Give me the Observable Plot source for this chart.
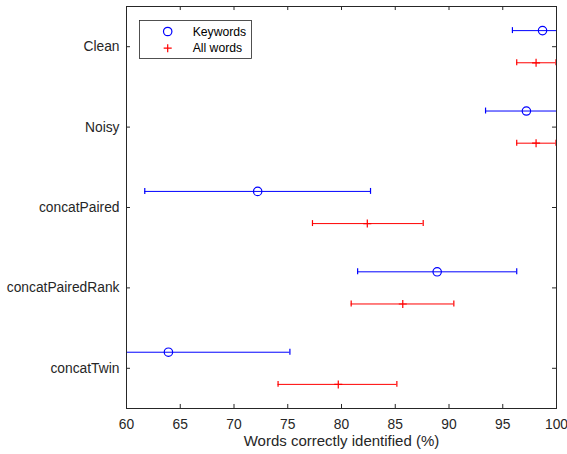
<!DOCTYPE html>
<html><head><meta charset="utf-8">
<script src="https://cdn.jsdelivr.net/npm/d3@7"></script>
<script src="https://cdn.jsdelivr.net/npm/@observablehq/plot@0.6"></script>
<style>body{margin:0;background:#fff} #chart svg{display:block}</style>
</head><body><div id="chart"></div>
<script>
const categories = ["Clean", "Noisy", "concatPaired", "concatPairedRank", "concatTwin"];
const seriesNames = ["Keywords", "All words"];
const kwMean = [98.7, 97.2, 72.2, 88.9, 63.9];
const kwLow = [95.9, 93.4, 61.7, 81.5, 52.6];
const kwHigh = [101.5, 101.0, 82.7, 96.3, 75.2];
const allMean = [98.1, 98.1, 82.4, 85.7, 79.7];
const allLow = [96.3, 96.3, 77.3, 80.9, 74.1];
const allHigh = [99.95, 99.95, 87.6, 90.45, 85.15];
const xTicks = [60, 65, 70, 75, 80, 85, 90, 95, 100];
const xLabel = "Words correctly identified (%)";

const colors = ["#0000ff", "#ff0000"];
const ink = "#262626";
const off = 0.2, cap = 0.037;
const rows = categories.flatMap((c, i) => [
  {cat: c, series: seriesNames[0], pos: i + 1 - off, mean: kwMean[i], low: kwLow[i], high: kwHigh[i]},
  {cat: c, series: seriesNames[1], pos: i + 1 + off, mean: allMean[i], low: allLow[i], high: allHigh[i]}
]);
const yIdx = categories.map((c, i) => i + 1);
const tY = 0.05, tX = 0.37;

const plot = Plot.plot({
  width: 567, height: 454,
  marginLeft: 126, marginRight: 11, marginTop: 6, marginBottom: 46,
  style: {fontFamily: "'Liberation Sans', Arial, sans-serif", fontSize: "13.8px", color: ink, background: "#fff"},
  x: {domain: [60, 100], ticks: xTicks, tickSize: 0, tickPadding: 10.5, label: null},
  y: {domain: [0.5, 5.5], reverse: true, ticks: yIdx, tickSize: 0, tickPadding: 7, tickFormat: i => categories[i - 1], label: null},
  color: {domain: seriesNames, range: colors},
  marks: [
    Plot.ruleY(rows, {y: "pos", x1: "low", x2: "high", stroke: "series", strokeWidth: 1, clip: true}),
    Plot.ruleX(rows, {x: "low", y1: d => d.pos - cap, y2: d => d.pos + cap, stroke: "series", strokeWidth: 1.2, clip: true}),
    Plot.ruleX(rows, {x: "high", y1: d => d.pos - cap, y2: d => d.pos + cap, stroke: "series", strokeWidth: 1.2, clip: true}),
    Plot.dot(rows.filter(d => d.series === seriesNames[0]), {x: "mean", y: "pos", symbol: "circle", r: 4.2, stroke: "series", strokeWidth: 1.2, fill: "none"}),
    Plot.dot(rows.filter(d => d.series === seriesNames[1]), {x: "mean", y: "pos", symbol: "plus", r: 2.7, stroke: "series", strokeWidth: 1.2}),
    Plot.ruleX(xTicks, {x: d => d, y1: 5.5, y2: 5.5 - tY, stroke: ink}),
    Plot.ruleX(xTicks, {x: d => d, y1: 0.5, y2: 0.5 + tY, stroke: ink}),
    Plot.ruleY(yIdx, {y: d => d, x1: 60, x2: 60 + tX, stroke: ink}),
    Plot.ruleY(yIdx, {y: d => d, x1: 100, x2: 100 - tX, stroke: ink}),
    Plot.frame({stroke: ink, strokeWidth: 1}),
    Plot.text([xLabel], {frameAnchor: "bottom", lineAnchor: "middle", dy: 32.5, text: d => d, fontSize: 15, fill: ink})
  ]
});
document.getElementById("chart").appendChild(plot);

// legend inside the axes
const svg = d3.select(plot.tagName.toLowerCase() === "svg" ? plot : plot.querySelector("svg"));
const lg = svg.append("g").attr("font-family", "'Liberation Sans', Arial, sans-serif").attr("font-size", 12.2).attr("text-anchor", "start");
lg.append("rect").attr("x", 139.5).attr("y", 20.5).attr("width", 112).attr("height", 38)
  .attr("fill", "#fff").attr("stroke", ink).attr("stroke-width", 0.8);
const rowsY = [31.5, 48.2];
lg.append("circle").attr("cx", 167.7).attr("cy", rowsY[0]).attr("r", 4.2)
  .attr("fill", "none").attr("stroke", colors[0]).attr("stroke-width", 1.2);
lg.append("path").attr("d", d3.symbol(d3.symbolPlus, 23)())
  .attr("transform", `translate(167.7,${rowsY[1]})`).attr("fill", "none").attr("stroke", colors[1]).attr("stroke-width", 1.2);
seriesNames.forEach((s, i) => {
  lg.append("text").attr("x", 192.7).attr("y", rowsY[i]).attr("dy", "0.35em").attr("text-anchor", "start").attr("fill", "#000").text(s);
});
</script>
</body></html>
